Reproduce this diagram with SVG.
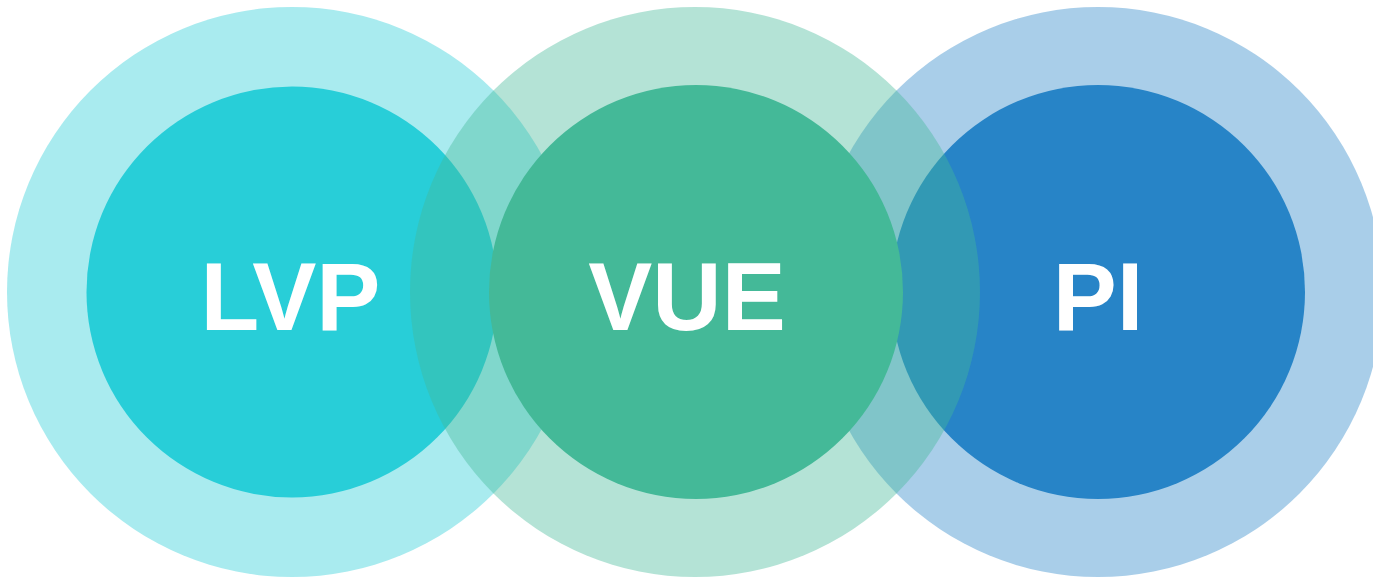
<svg xmlns="http://www.w3.org/2000/svg" width="1373" height="578" viewBox="0 0 1373 578">
<style>
.lbl{font-family:"Liberation Sans",Arial,sans-serif;font-weight:bold;font-size:96px;fill:#FFFFFF;text-anchor:middle}
</style>
<rect width="1373" height="578" fill="#FFFFFF"/>
<g id="node-lvp">
<circle cx="292" cy="292" r="285" fill="#28CED8" fill-opacity="0.4"/>
<circle cx="292" cy="292" r="205.5" fill="#28CED8"/>
<text class="lbl" x="290.5" y="329.5" textLength="180" lengthAdjust="spacingAndGlyphs">LVP</text>
</g>
<g id="node-pi">
<circle cx="1098" cy="292" r="285" fill="#2784C7" fill-opacity="0.4"/>
<circle cx="1098" cy="292" r="207" fill="#2784C7"/>
<text class="lbl" x="1098" y="329.5">PI</text>
</g>
<g id="node-vue">
<circle cx="695" cy="292" r="285" fill="#44B998" fill-opacity="0.4"/>
<circle cx="696" cy="292" r="207" fill="#44B998"/>
<text class="lbl" x="687" y="329.5">VUE</text>
</g>
<g id="connectors"></g>
</svg>
